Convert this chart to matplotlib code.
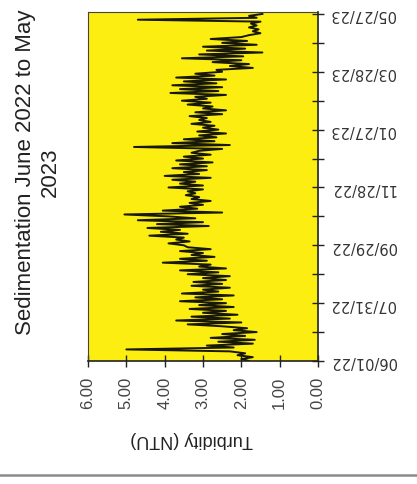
import numpy as np
import pandas as pd
import matplotlib
matplotlib.use("Agg")
import matplotlib.pyplot as plt
import matplotlib.dates as mdates
from matplotlib.lines import Line2D

# turbidity readings every 2 days starting 06/01/22
start_date = "2022-06-01"
turbidity = [
    1.8, 2.0, 1.7, 2.1, 1.9, 2.3, 5.0, 2.2, 2.9, 1.7,
    2.6, 1.65, 2.8, 1.9, 2.5, 1.6, 2.2, 1.85, 2.5, 3.4,
    2.0, 3.7, 2.3, 3.3, 2.1, 3.0, 2.4, 3.35, 2.2, 3.1,
    2.4, 3.6, 2.5, 3.2, 2.2, 3.55, 2.6, 3.0, 2.3, 3.3,
    2.5, 3.25, 2.4, 3.0, 2.3, 3.4, 2.6, 3.6, 2.4, 3.1,
    2.8, 4.05, 2.9, 3.6, 2.7, 3.3, 3.0, 3.6, 2.8, 3.4,
    3.5, 3.9, 3.35, 3.7, 3.5, 4.4, 3.4, 4.1, 3.6, 4.45,
    2.85, 4.2, 3.0, 4.7, 3.2, 3.9, 5.05, 2.5, 4.05, 3.15,
    3.6, 3.0, 3.35, 2.8, 3.3, 3.1, 3.45, 3.2, 3.4, 3.0,
    3.9, 3.0, 3.6, 3.2, 3.8, 2.8, 4.0, 3.1, 3.5, 2.9,
    3.8, 2.9, 3.6, 2.75, 3.7, 3.0, 3.5, 2.8, 3.3, 3.1,
    2.5, 4.8, 2.3, 3.8, 2.7, 3.5, 2.65, 3.1, 2.4, 3.15,
    2.6, 3.0, 2.7, 3.3, 2.8, 3.1, 2.9, 3.35, 2.5, 3.2,
    2.4, 3.0, 2.75, 3.4, 2.8, 3.55, 2.9, 3.2, 2.4, 3.85,
    2.6, 3.6, 2.5, 3.8, 2.65, 3.5, 2.4, 3.7, 2.7, 3.2,
    2.5, 2.65, 1.7, 2.3, 1.8, 2.75, 2.0, 3.55, 1.95, 3.1,
    1.45, 2.9, 1.9, 3.0, 1.6, 2.5, 1.85, 2.8, 2.0, 1.8,
    1.5, 1.7, 1.55, 1.8, 1.6, 1.75, 1.5, 4.7, 1.6, 1.8,
    1.45,
]
dates = pd.date_range(start_date, periods=len(turbidity), freq="2D")

major_labels = ["06/01/22", "07/31/22", "09/29/22", "11/28/22",
                "01/27/23", "03/28/23", "05/27/23"]
y_ticks = [0, 1, 2, 3, 4, 5, 6]
title = "Sedimentation June 2022 to May\n2023"


def main():
    fig = plt.figure(figsize=(4.17, 4.85), dpi=100)
    fig.patch.set_facecolor("white")
    ax = fig.add_axes([88 / 417, 123 / 485, 230 / 417, 349 / 485])
    ax.set_facecolor("#FDEE12")

    ax.plot(turbidity, dates, color="#18180a", linewidth=1.4)

    ax.set_xlim(6, 0)
    ax.set_ylim(pd.Timestamp("2022-06-01"), pd.Timestamp("2023-05-29"))

    major = [pd.Timestamp(d) for d in pd.to_datetime(major_labels, format="%m/%d/%y")]
    minor = [pd.Timestamp(start_date) + pd.Timedelta(days=30 * i) for i in range(13)]
    ax.set_yticks(mdates.date2num(major))
    ax.set_yticks(mdates.date2num(minor), minor=True)
    ax.set_yticklabels(major_labels, rotation=180, fontsize=10.5,
                       family="DejaVu Sans", color="#333333", va="center")
    ax.yaxis.tick_right()
    ax.tick_params(axis="y", which="both", direction="inout", length=9,
                   width=1, color="#222222", pad=4)

    ax.set_xticks(y_ticks)
    ax.set_xticklabels(["%.2f" % v for v in y_ticks], rotation=90,
                       fontsize=12, family="Liberation Sans", color="#444444")
    ax.tick_params(axis="x", direction="inout", length=9, width=1,
                   color="#222222", pad=6)

    for side in ["left", "top"]:
        ax.spines[side].set_color("#444444")
        ax.spines[side].set_linewidth(0.8)
    for side in ["bottom", "right"]:
        ax.spines[side].set_color("#222222")
        ax.spines[side].set_linewidth(1.2)

    fig.text(192 / 417, 1 - 440 / 485, "Turbidity (NTU)", rotation=180,
             ha="center", va="center", fontsize=13, family="Liberation Sans",
             color="#222222")
    fig.text(38 / 417, 1 - 172 / 485, title, rotation=90, ha="center",
             va="center", multialignment="center", fontsize=16,
             family="Liberation Sans", color="#222222")

    fig.add_artist(Line2D([0, 1], [1 - 476 / 485, 1 - 476 / 485],
                          transform=fig.transFigure, color="#8a8a8a", lw=1.8))

    fig.savefig("out.png", dpi=100)


if __name__ == "__main__":
    main()
